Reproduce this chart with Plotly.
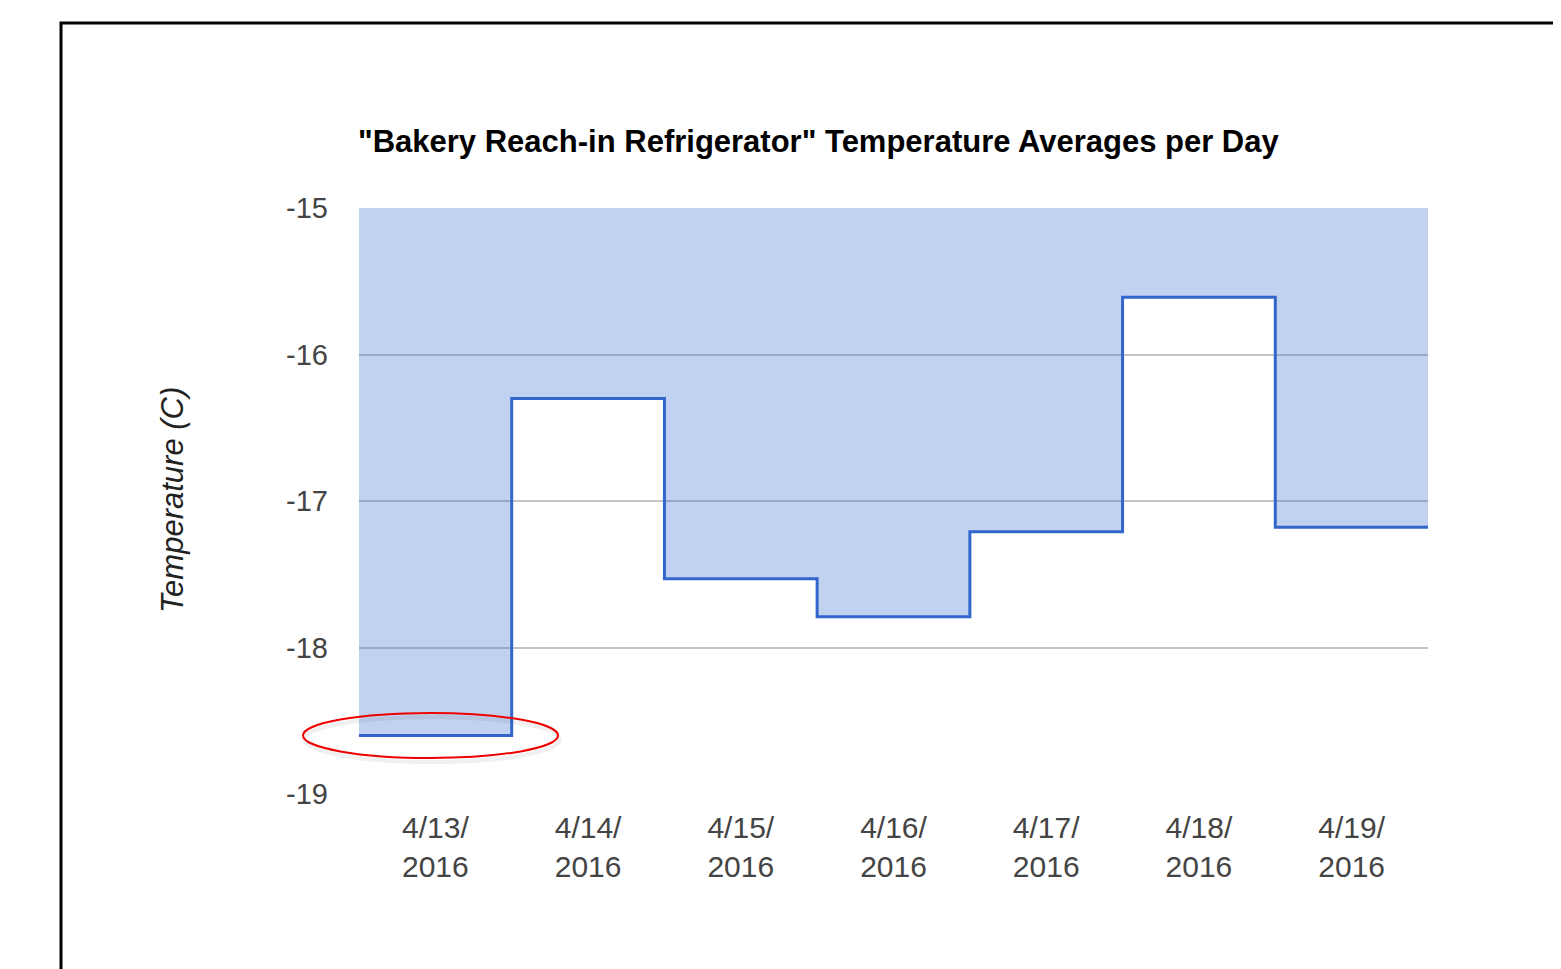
import numpy as np
import plotly.graph_objects as go

# ---- data ----
dates = ["4/13/2016", "4/14/2016", "4/15/2016", "4/16/2016", "4/17/2016", "4/18/2016", "4/19/2016"]
temps = [-18.60, -16.30, -17.53, -17.79, -17.21, -15.61, -17.18]
tick_labels = [d.replace("/2016", "/<br>2016") for d in dates]
y_ticks = [-19, -18, -17, -16, -15]
title_text = '"Bakery Reach-in Refrigerator" Temperature Averages per Day'
y_title = "Temperature (C)"

n = len(dates)
x_edges = np.arange(n + 1) - 0.5
y_step = temps + [temps[-1]]
top = max(y_ticks)

OFF = 8  # page body margin
W, H = 1561 - OFF, 969 - OFF
L, R, T, B = 359, 1428, 208, 794  # target plot area in screen pixels

fig = go.Figure()
fig.add_trace(go.Scatter(x=x_edges, y=[top] * (n + 1), mode="lines",
                         line=dict(width=0, shape="hv"), hoverinfo="skip", showlegend=False))
fig.add_trace(go.Scatter(x=x_edges, y=y_step, mode="lines", fill="tonexty",
                         fillcolor="rgba(51,102,204,0.3)",
                         line=dict(color="#3366cc", width=3, shape="hv"),
                         showlegend=False))

fig.update_layout(
    width=W, height=H,
    margin=dict(l=L - OFF, r=W + OFF - R, t=T - OFF, b=H + OFF - B, pad=0),
    paper_bgcolor="white", plot_bgcolor="white",
    font=dict(family="Liberation Sans, Arial, sans-serif", color="#444"),
    showlegend=False,
)
fig.update_xaxes(range=[-0.5, n - 0.5], tickvals=list(range(n)), ticktext=tick_labels,
                 showgrid=False, zeroline=False, showline=False,
                 tickfont=dict(size=30, color="#444"), ticks="", ticklabelstandoff=13)
fig.update_yaxes(range=[min(y_ticks), max(y_ticks)], tickvals=y_ticks,
                 ticktext=[str(v) for v in y_ticks],
                 showgrid=True, gridcolor="#c4c4c4", gridwidth=1.5, zeroline=False, showline=False,
                 tickfont=dict(size=29, color="#444"), ticks="", ticklabelstandoff=30)

pw, ph = R - L, B - T
def px(x): return (x - L) / pw
def py(y): return (B - y) / ph

fig.add_annotation(text="<b>" + title_text + "</b>", xref="paper", yref="paper",
                   x=px(356), y=py(141), xanchor="left", yanchor="middle", showarrow=False,
                   font=dict(size=31, color="#000000", family="Liberation Sans, Arial, sans-serif"))
fig.add_annotation(text="<i>" + y_title + "</i>", xref="paper", yref="paper",
                   x=px(172), y=py(500), xanchor="center", yanchor="middle", textangle=-90,
                   showarrow=False, font=dict(size=31, color="#222222"))

# screenshot frame
fig.add_shape(type="rect", xref="paper", yref="paper",
              x0=px(61), x1=px(1620), y0=py(23), y1=py(1050),
              line=dict(color="#000000", width=3), fillcolor="rgba(0,0,0,0)", layer="above")
# red ellipse highlight with faint shadow
fig.add_shape(type="circle", xref="paper", yref="paper",
              x0=px(304), x1=px(560), y0=py(762), y1=py(717),
              line=dict(color="rgba(0,0,0,0.06)", width=4), layer="above")
fig.add_shape(type="circle", xref="paper", yref="paper",
              x0=px(303), x1=px(558), y0=py(758), y1=py(713),
              line=dict(color="#ee0000", width=2), layer="above")

fig.write_html("out.html")
